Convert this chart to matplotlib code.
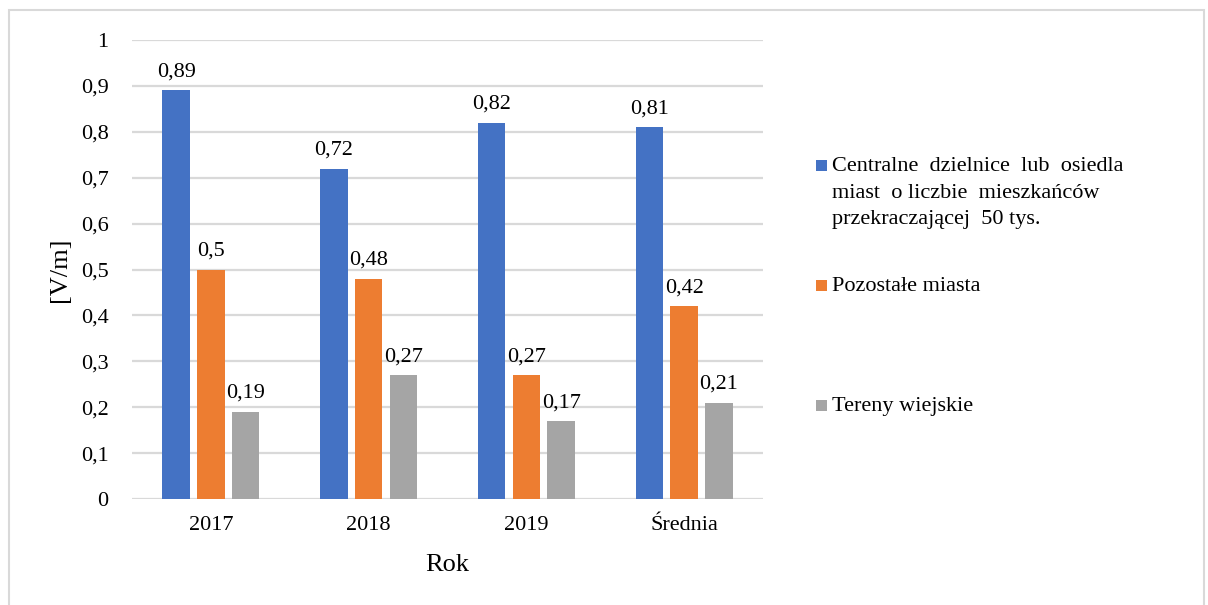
import numpy as np
import matplotlib.pyplot as plt
from matplotlib.patches import Rectangle

categories = ['2017', '2018', '2019', 'Średnia']
series_names = ['Centralne  dzielnice  lub  osiedla\nmiast  o liczbie  mieszkańców\nprzekraczającej  50 tys.',
                'Pozostałe miasta',
                'Tereny wiejskie']
centralne = [0.89, 0.72, 0.82, 0.81]
pozostale = [0.50, 0.48, 0.27, 0.42]
wiejskie = [0.19, 0.27, 0.17, 0.21]
y_ticks = [0, 0.1, 0.2, 0.3, 0.4, 0.5, 0.6, 0.7, 0.8, 0.9, 1.0]

colors = ['#4472C4', '#ED7D31', '#A5A5A5']
plt.rcParams['font.family'] = ['Liberation Serif', 'DejaVu Serif']

fig = plt.figure(figsize=(12.08, 6.05), dpi=100)
ax = fig.add_axes([132 / 1208, 1 - 499 / 605, 631 / 1208, 459 / 605])

# ramka wokół wykresu
fig.patches.append(Rectangle((9 / 1208, -0.01), 1195 / 1208, 1 - 10 / 605 + 0.01,
                             transform=fig.transFigure, fill=False,
                             edgecolor='#d9d9d9', linewidth=1.5))

x = np.arange(len(categories))
width = 0.175
step = 0.22
for i, vals in enumerate([centralne, pozostale, wiejskie]):
    bars = ax.bar(x + (i - 1) * step, vals, width, color=colors[i], zorder=3)
    for b, v in zip(bars, vals):
        ax.annotate(f'{v:g}'.replace('.', ','), (b.get_x() + b.get_width() / 2, v),
                    xytext=(0, 10), textcoords='offset points',
                    ha='center', va='baseline', fontsize=16)

ax.set_xlim(-0.5, len(categories) - 0.5)
ax.set_ylim(0, 1)
ax.set_yticks(y_ticks)
ax.set_yticklabels([f'{t:g}'.replace('.', ',') for t in y_ticks], fontsize=16)
ax.set_xticks(x)
ax.set_xticklabels(categories, fontsize=16)
ax.tick_params(axis='both', length=0)
ax.tick_params(axis='y', pad=17)
ax.tick_params(axis='x', pad=12)
ax.grid(axis='y', color='#d9d9d9', linewidth=1.6, zorder=0)
for s in ax.spines.values():
    s.set_visible(False)

ax.set_xlabel('Rok', fontsize=19, labelpad=14)
ax.set_ylabel('[V/m]', fontsize=19, labelpad=7)

# legenda
leg_y = [165, 285, 405]
for i, name in enumerate(series_names):
    fig.patches.append(Rectangle((816 / 1208, 1 - (leg_y[i] + 6) / 605), 11 / 1208, 11 / 605,
                                 transform=fig.transFigure, facecolor=colors[i], edgecolor='none'))
    fig.text(832 / 1208, 1 - (leg_y[i] - 8) / 605, name, fontsize=16, va='top',
             ha='left', linespacing=1.55)

fig.savefig('out.png', dpi=100)
